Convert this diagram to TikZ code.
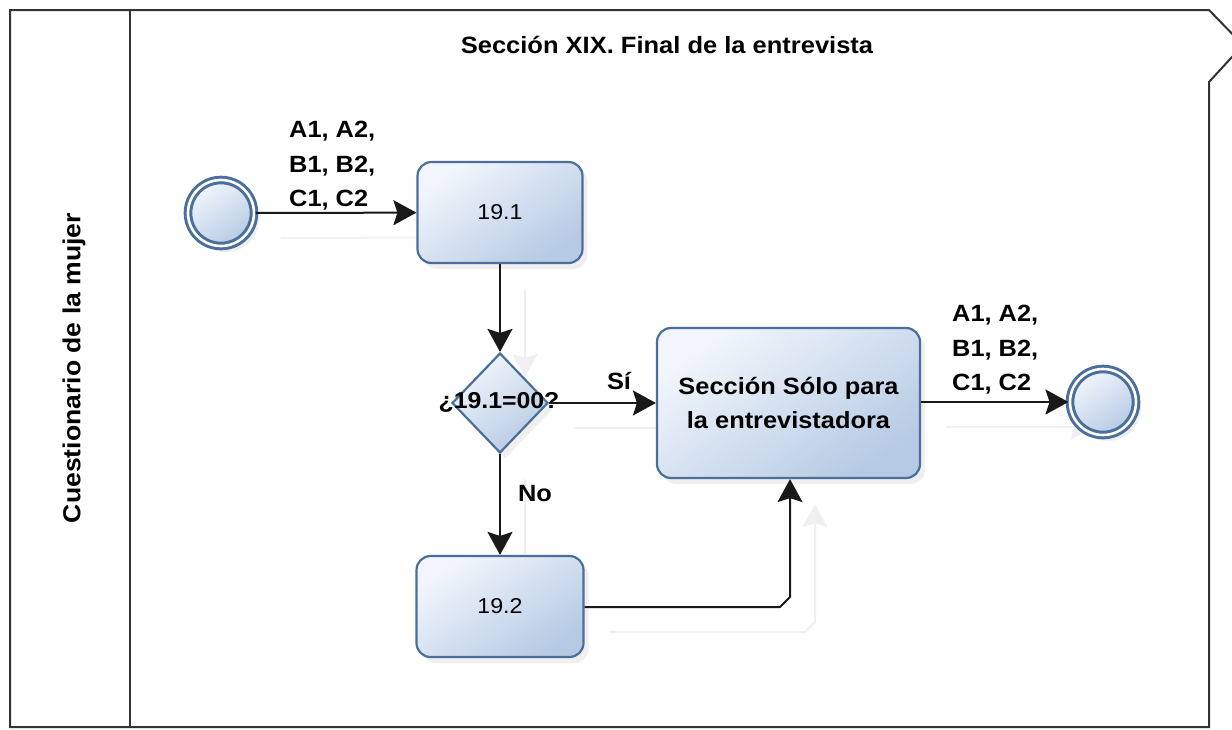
\documentclass[tikz,border=0pt]{standalone}
\usepackage{fontspec}
\setmainfont[FakeStretch=1.08]{Liberation Sans}
\usetikzlibrary{arrows.meta,shapes.geometric,shadows}
\definecolor{bord}{HTML}{4A6F9C}
\definecolor{fillA}{HTML}{F2F6FC}
\definecolor{fillB}{HTML}{B6CAE4}
\definecolor{ghostc}{HTML}{F0F0F0}
\pgfdeclarelayer{bottom}
\pgfdeclarelayer{ghostlayer}
\pgfsetlayers{bottom,ghostlayer,main}
\tikzset{
  pool/.style={draw=black!80, line width=2pt},
  task/.style={draw=bord, line width=2.2pt, rounded corners=14pt,
    top color=fillA, bottom color=fillB, shading angle=35,
    drop shadow={opacity=0.12, shadow xshift=5pt, shadow yshift=-6pt},
    font=\fontsize{21.5}{30}\selectfont, align=center, inner sep=0pt},
  gate/.style={diamond, draw=bord, line width=2.2pt, top color=fillA, bottom color=fillB,
    shading angle=35, minimum width=96pt, minimum height=100pt, inner sep=0pt,
    drop shadow={opacity=0.12, shadow xshift=5pt, shadow yshift=-6pt}},
  event/.style={circle, draw=bord, line width=3pt, double=white, double distance=2.6pt,
    top color=fillA, bottom color=fillB, shading angle=35, minimum size=66pt, inner sep=0pt,
    drop shadow={opacity=0.12, shadow xshift=5pt, shadow yshift=-6pt}},
  flow/.style={draw=black!90, line width=2pt, -{Stealth[length=23pt,width=25pt,inset=4pt]}},
  ghostflow/.style={draw=ghostc, line width=2pt, -{Stealth[length=23pt,width=25pt,inset=4pt]}},
  lbl/.style={font=\fontsize{23.5}{34.5}\selectfont\bfseries, align=left, inner sep=0pt},
}
\begin{document}
\begin{tikzpicture}[x=1pt,y=-1pt]
\useasboundingbox (0,0) rectangle (1232,729);
\begin{pgfonlayer}{bottom}
\fill[white] (0,0) rectangle (1232,729);
\end{pgfonlayer}
\begin{scope}
\clip (0,0) rectangle (1232,729);
\draw[pool] (10,10) -- (1209,10) -- (1243,45) -- (1209,82) -- (1209,727) -- (10,727) -- cycle;
\draw[pool] (130,10) -- (130,727);
\end{scope}
\node[font=\fontsize{23.6}{26}\selectfont\bfseries] (title) at (667,45) {Sección XIX. Final de la entrevista};
\node[font=\fontsize{24.6}{28}\selectfont\bfseries, rotate=90] (lane) at (74,368) {Cuestionario de la mujer};

\node[event] (start) at (221,213) {};
\node[task, minimum width=165pt, minimum height=101pt] (t191) at (500,212.5) {19.1};
\node[gate] (g) at (500,403) {};
\node[font=\fontsize{23}{26}\selectfont\bfseries, inner sep=0pt] (gl) at (499,402) {¿19.1=00?};
\node[task, minimum width=263pt, minimum height=150pt, font=\fontsize{23.5}{33.5}\selectfont\bfseries] (sec) at (788.5,403) {Sección Sólo para\\la entrevistadora};
\node[task, minimum width=167pt, minimum height=101pt] (t192) at (500,606.5) {19.2};
\node[event] (end) at (1103,402) {};

\coordinate (bend) at (790,607);
\draw[flow] (start) -- (t191);
\draw[flow] (t191) -- (g);
\draw[flow] (g) -- (sec.west |- g);
\draw[flow] (g) -- (t192);
\draw[flow] (sec.east |- end) -- (end);
\draw[flow] (t192.east |- bend) -- ([xshift=-10pt]bend) -- ([yshift=10pt]bend) -- (sec.south -| bend);

\begin{pgfonlayer}{ghostlayer}
\begin{scope}[every path/.append style={ghostflow}]
\draw ([shift={(25,25)}]start.east) -- ([shift={(25,25)}]t191.west);
\draw ([shift={(25,25)}]t191.south) -- ([shift={(25,25)}]g.north);
\draw ([shift={(25,25)}]g.east) -- ([shift={(25,25)}]sec.west |- g);
\draw ([shift={(25,25)}]g.south) -- ([shift={(25,25)}]t192.north);
\draw ([shift={(25,25)}]sec.east |- end) -- ([shift={(25,25)}]end.west);
\draw ([shift={(25,25)}]t192.east |- bend) -- ([shift={(15,25)}]bend) -- ([shift={(25,15)}]bend) -- ([shift={(25,25)}]sec.south -| bend);
\end{scope}
\end{pgfonlayer}

\node[lbl, anchor=west] (l1) at (289,166) {A1, A2,\\B1, B2,\\C1, C2};
\node[lbl, anchor=west] (l2) at (952,350) {A1, A2,\\B1, B2,\\C1, C2};
\node[lbl] (si) at (619,381) {Sí};
\node[lbl] (no) at (535,494) {No};
\end{tikzpicture}
\end{document}
